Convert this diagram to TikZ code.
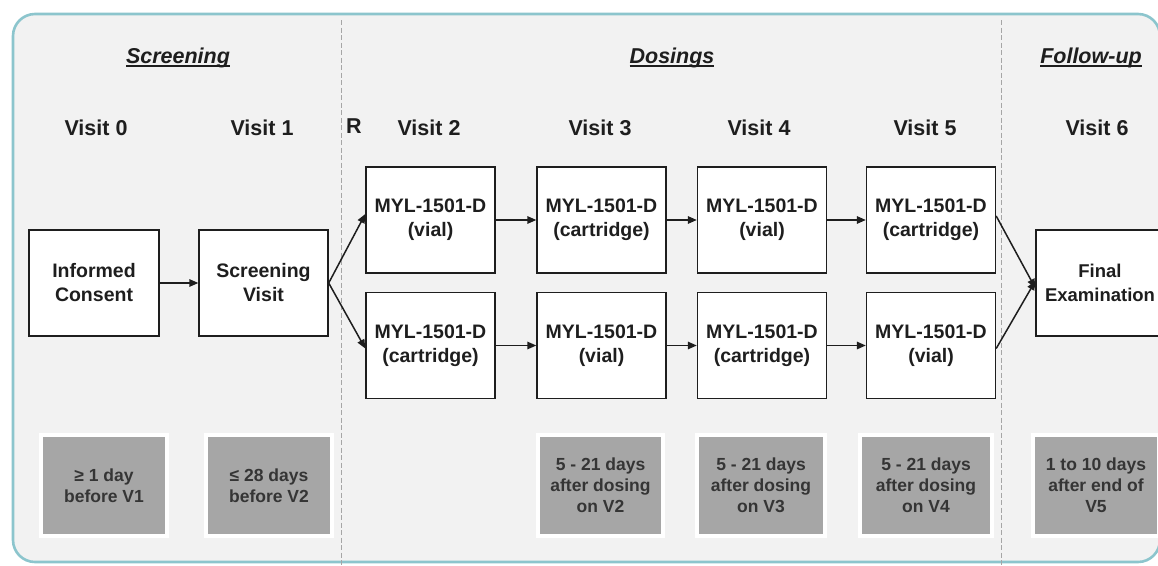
\documentclass[tikz,border=0pt]{standalone}
\usepackage{fontspec}
\setmainfont{Liberation Sans}
\usetikzlibrary{arrows.meta}
\definecolor{framec}{HTML}{8CC5CD}
\definecolor{panel}{HTML}{F2F2F2}
\definecolor{greybox}{HTML}{A6A6A6}
\definecolor{ink}{HTML}{1E1E1E}
\newcommand{\ulbox}[1]{\setbox0\hbox{#1}\rlap{\rule[-4pt]{\wd0}{1.6pt}}\box0}
\tikzset{
  frame/.style={draw=framec, line width=2.6pt, fill=panel, rounded corners=22pt},
  sep/.style={draw=gray!70, line width=0.9pt, dash pattern=on 5pt off 2.5pt},
  heading/.style={anchor=base, text=ink, font=\fontsize{21.5}{26}\selectfont\bfseries\itshape},
  visit/.style={anchor=base, text=ink, font=\fontsize{21.5}{26}\selectfont\bfseries},
  stepbox/.style={draw=ink, line width=1.4pt, fill=white, minimum width=129pt, minimum height=106pt,
    inner sep=0pt, align=center, text=ink, font=\fontsize{19.5}{24}\selectfont\bfseries},
  timebox/.style={draw=white, line width=4pt, fill=greybox, minimum height=101pt,
    inner sep=0pt, align=center, text=ink!90, font=\fontsize{17.5}{21}\selectfont\bfseries},
  flow/.style={draw=ink, line width=1.5pt, -{Triangle[length=9pt,width=7.5pt]}}
}
\begin{document}
\begin{tikzpicture}[x=1pt,y=-1pt]
\useasboundingbox (0,0) rectangle (1158,565);
\clip (0,0) rectangle (1158,565);
\fill[white] (0,0) rectangle (1158,565);
\path[frame] (13,14) rectangle (1160,562);

% separators
\coordinate (s1t) at (341,20); \coordinate (s1b) at (341,565);
\coordinate (s2t) at (1001,20); \coordinate (s2b) at (1001,565);
\draw[sep] (s1t) -- (s1b);
\draw[sep] (s2t) -- (s2b);

% headings
\node[heading] (hscr) at (178,63) {\ulbox{Screening}};
\node[heading] (hdos) at (672,63) {\ulbox{Dosings}};
\node[heading] (hfol) at (1091,63) {\ulbox{Follow-up}};

% visit labels
\node[visit] (v0) at (96,135) {Visit 0};
\node[visit] (v1) at (262,135) {Visit 1};
\node[visit] (rr) at (354,133) {R};
\node[visit] (v2) at (429,135) {Visit 2};
\node[visit] (v3) at (600,135) {Visit 3};
\node[visit] (v4) at (759,135) {Visit 4};
\node[visit] (v5) at (925,135) {Visit 5};
\node[visit] (v6) at (1097,135) {Visit 6};

% main boxes
\node[stepbox, minimum width=130pt] (ic) at (94,283) {Informed\\Consent};
\node[stepbox] (sv) at (263.5,283) {Screening\\Visit};
\node[stepbox] (a2) at (430.5,220) {MYL-1501-D\\(vial)};
\node[stepbox] (a3) at (601.5,220) {MYL-1501-D\\(cartridge)};
\node[stepbox] (a4) at (762,220) {MYL-1501-D\\(vial)};
\node[stepbox] (a5) at (931,220) {MYL-1501-D\\(cartridge)};
\node[stepbox] (b2) at (430.5,345.5) {MYL-1501-D\\(cartridge)};
\node[stepbox] (b3) at (601.5,345.5) {MYL-1501-D\\(vial)};
\node[stepbox] (b4) at (762,345.5) {MYL-1501-D\\(cartridge)};
\node[stepbox] (b5) at (931,345.5) {MYL-1501-D\\(vial)};
\node[stepbox, minimum width=128pt, font=\fontsize{18.5}{24}\selectfont\bfseries] (fe) at (1100,283) {Final\\Examination};

% connectors
\draw[flow] (ic.east) -- (sv.west);
\draw[flow] (sv.east) -- ([yshift=6pt]a2.west);
\draw[flow] (sv.east) -- ([yshift=-3pt]b2.west);
\draw[flow] (a2) -- (a3);
\draw[flow] (a3) -- (a4);
\draw[flow] (a4) -- (a5);
\draw[flow] (b2) -- (b3);
\draw[flow] (b3) -- (b4);
\draw[flow] (b4) -- (b5);
\draw[flow] ([yshift=4pt]a5.east) -- ([yshift=-5pt]fe.west);
\draw[flow] ([yshift=-3pt]b5.east) -- ([yshift=2pt]fe.west);

% time windows
\node[timebox, minimum width=126pt] (t0) at (104,485.5) {≥ 1 day\\before V1};
\node[timebox, minimum width=126pt] (t1) at (269,485.5) {≤ 28 days\\before V2};
\node[timebox, minimum width=125pt] (t3) at (600.5,485.5) {5 - 21 days\\after dosing\\on V2};
\node[timebox, minimum width=128pt] (t4) at (761,485.5) {5 - 21 days\\after dosing\\on V3};
\node[timebox, minimum width=132pt] (t5) at (926,485.5) {5 - 21 days\\after dosing\\on V4};
\node[timebox, minimum width=126pt] (t6) at (1096,485.5) {1 to 10 days\\after end of\\V5};
\end{tikzpicture}
\end{document}
